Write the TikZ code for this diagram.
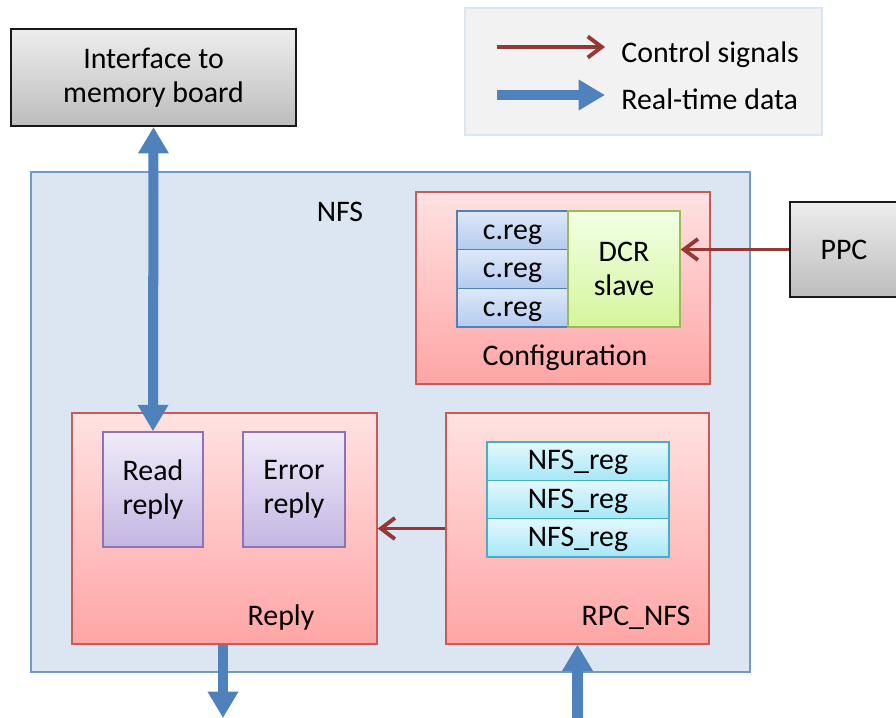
\documentclass[tikz,border=0pt]{standalone}
\usepackage{fontspec}
\setmainfont{Carlito}
\usetikzlibrary{arrows.meta}
\definecolor{ctrlred}{RGB}{149,55,53}
\definecolor{datablue}{RGB}{79,129,189}
\definecolor{nfsfill}{RGB}{220,230,242}
\definecolor{nfsline}{RGB}{115,153,198}
\definecolor{redtop}{RGB}{255,226,226}
\definecolor{redbot}{RGB}{255,165,165}
\definecolor{redline}{RGB}{200,90,88}
\definecolor{regtop}{RGB}{222,232,248}
\definecolor{regbot}{RGB}{180,203,240}
\definecolor{dcrtop}{RGB}{242,255,230}
\definecolor{dcrbot}{RGB}{213,245,156}
\definecolor{dcrline}{RGB}{155,187,89}
\definecolor{purtop}{RGB}{239,235,249}
\definecolor{purbot}{RGB}{196,182,227}
\definecolor{purline}{RGB}{142,114,181}
\definecolor{cyantop}{RGB}{228,248,252}
\definecolor{cyanbot}{RGB}{166,231,248}
\definecolor{cyanline}{RGB}{75,172,198}

\begin{document}
\begin{tikzpicture}[x=0.02cm,y=-0.02cm,
  every node/.style={font=\fontsize{17}{19.5}\selectfont, inner sep=0pt, align=center},
  greybox/.style={draw=black!90, line width=1.2pt, top color=black!7, bottom color=black!26},
  redbox/.style={draw=redline, line width=0.8pt, top color=redtop, bottom color=redbot},
  regbox/.style={draw=datablue, line width=0.8pt, top color=regtop, bottom color=regbot, text height=12pt, text depth=2pt},
  purbox/.style={draw=purline, line width=0.8pt, top color=purtop, bottom color=purbot},
  cyanbox/.style={draw=cyanline, line width=0.8pt, top color=cyantop, bottom color=cyanbot, text height=12pt, text depth=2pt},
  ctrl/.style={draw=ctrlred, line width=2.2pt, -{Straight Barb[length=8pt,width=12pt]}},
  data/.style={draw=datablue, line width=5.7pt, -{Triangle[length=15pt,width=16.5pt]}},
  databoth/.style={data, {Triangle[length=15pt,width=16.5pt]}-{Triangle[length=15pt,width=16.5pt]}}]
\useasboundingbox (0,0) rectangle (896,717);

% Legend
\node[draw=nfsfill, line width=1.5pt, fill=black!5, minimum width=7.14cm, minimum height=2.54cm] (legend) at (643.5,71.5) {};
\coordinate (ctrlA) at (497,47);
\coordinate (ctrlB) at (605,47);
\coordinate (dataA) at (497,95);
\coordinate (dataB) at (605,95);
\draw[ctrl] (ctrlA) -- (ctrlB);
\draw[data] (dataA) -- (dataB);
\node[anchor=base west] (ctrltxt) at (621,62) {Control signals};
\node[anchor=base west] (datatxt) at (621,109) {Real-time data};

% Outside blocks
\node[greybox, minimum width=5.70cm, minimum height=1.94cm] (iface) at (153.5,77.5) {Interface to\\memory board};

% NFS
\node[draw=nfsline, line width=0.8pt, fill=nfsfill, minimum width=14.38cm, minimum height=10cm] (nfs) at (390.5,422) {};
\node (nfslbl) at (340,212) {NFS};

\node[greybox, minimum width=2.16cm, minimum height=1.9cm] (ppc) at (844,249.5) {PPC};

% Configuration
\node[redbox, minimum width=5.88cm, minimum height=3.84cm] (config) at (563,288) {};
\node (configlbl) at (565,358) {Configuration};
\node[regbox, minimum width=2.22cm, minimum height=0.773cm] (creg1) at (512.5,230.3) {c.reg};
\node[regbox, minimum width=2.22cm, minimum height=0.773cm] (creg2) at (512.5,269) {c.reg};
\node[regbox, minimum width=2.22cm, minimum height=0.773cm] (creg3) at (512.5,307.7) {c.reg};
\node[draw=dcrline, line width=0.8pt, top color=dcrtop, bottom color=dcrbot, minimum width=2.24cm, minimum height=2.32cm] (dcr) at (624,269) {DCR\\slave};

% Reply
\node[redbox, minimum width=6.10cm, minimum height=4.62cm] (reply) at (224.5,528.5) {};
\node (replylbl) at (281,618) {Reply};
\node[purbox, minimum width=2.00cm, minimum height=2.30cm] (readrep) at (153,489.5) {Read\\reply};
\node[purbox, minimum width=2.04cm, minimum height=2.30cm] (errrep) at (294,489.5) {Error\\reply};

% RPC_NFS
\node[redbox, minimum width=5.26cm, minimum height=4.62cm] (rpc) at (577.5,528.5) {};
\node (rpclbl) at (636,618) {RPC\_NFS};
\node[cyanbox, minimum width=3.64cm, minimum height=0.767cm] (nreg1) at (578,461.2) {NFS\_reg};
\node[cyanbox, minimum width=3.64cm, minimum height=0.767cm] (nreg2) at (578,499.5) {NFS\_reg};
\node[cyanbox, minimum width=3.64cm, minimum height=0.767cm] (nreg3) at (578,537.8) {NFS\_reg};

% Connections
\draw[ctrl] (ppc.west) -- (ppc.west -| dcr.east);
\draw[ctrl] (rpc.west) -- (reply.east);
\draw[databoth] (iface.south) -- (readrep.north);
\coordinate (replyout) at (223,718);
\coordinate (rpcin) at (577.5,740);
\draw[data] (reply.south -| replyout) -- (replyout);
\draw[data] (rpcin) -- (rpc.south);
\end{tikzpicture}
\end{document}
